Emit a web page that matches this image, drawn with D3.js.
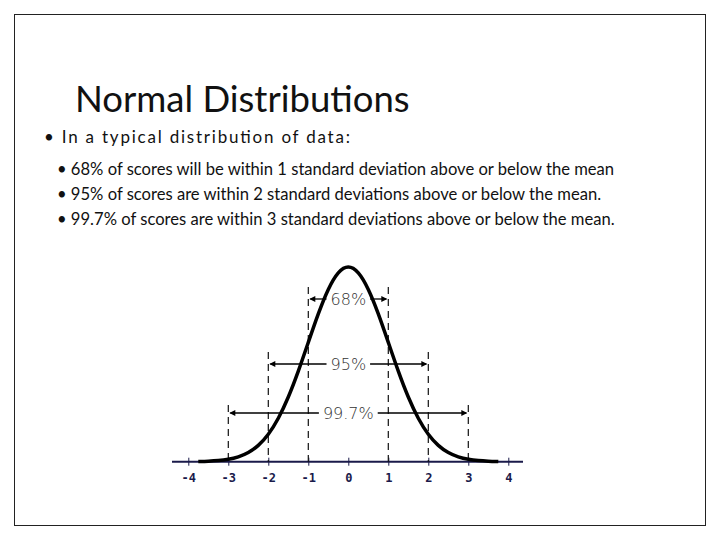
<!DOCTYPE html><html><head><script src="https://cdn.jsdelivr.net/npm/d3@7"></script>
<style>body{margin:0;background:#fff}</style></head><body><svg width="720" height="540"></svg>
<script>
const zs=[-3.75,-3.5,-3.25,-3,-2.75,-2.5,-2.25,-2,-1.75,-1.5,-1.25,-1,-0.75,-0.5,-0.25,0,0.25,0.5,0.75,1,1.25,1.5,1.75,2,2.25,2.5,2.75,3,3.25,3.5,3.75];
const dens=[0.0004,0.0009,0.002,0.0044,0.0091,0.0175,0.0317,0.054,0.0863,0.1295,0.1826,0.242,0.3011,0.3521,0.3867,0.3989,0.3867,0.3521,0.3011,0.242,0.1826,0.1295,0.0863,0.054,0.0317,0.0175,0.0091,0.0044,0.002,0.0009,0.0004];
const ticks=[-4,-3,-2,-1,0,1,2,3,4];
const spans=[{label:"68%",k:1},{label:"95%",k:2},{label:"99.7%",k:3}];
const bullets=["68% of scores will be within 1 standard deviation above or below the mean","95% of scores are within 2 standard deviations above or below the mean.","99.7% of scores are within 3 standard deviations above or below the mean."];
const svg=d3.select("svg");
svg.append("rect").attr("x",14.5).attr("y",14.5).attr("width",691).attr("height",511).attr("fill","none").attr("stroke","#222");
svg.append("text").attr("x",75).attr("y",112).attr("font-family","Lato").attr("font-size",36.5).attr("fill","#111").text("Normal Distributions");
svg.append("text").attr("x",44).attr("y",143).attr("font-family","Lato").attr("font-size",17).attr("fill","#111").attr("textLength",306).text("• In a typical distribution of data:");
bullets.forEach((b,i)=>svg.append("text").attr("x",57).attr("y",175+i*25).attr("font-family","Lato").attr("font-size",16.6).attr("fill","#111").text("• "+b));
const x=d3.scaleLinear().domain([0,1]).range([348.3,388.3]);
const y=d3.scaleLinear().domain([0,0.3989]).range([461.7,265]);
svg.append("line").attr("x1",172).attr("x2",523).attr("y1",461.7).attr("y2",461.7).attr("stroke","#1a1a4a").attr("stroke-width",2);
const ax=svg.append("g").attr("transform","translate(0,461.7)").call(d3.axisBottom(x).tickValues(ticks).tickSize(5).tickFormat(d=>d<0?"-"+Math.abs(d):d));
ax.select(".domain").remove();
ax.selectAll("line").attr("stroke","#1a1a4a").attr("y1",-4).attr("y2",4);
ax.selectAll("text").attr("font-family","DejaVu Sans Mono").attr("font-weight","bold").attr("font-size",12).attr("fill","#1a1a4a").attr("dy","1em");
const tops={1:287,2:352,3:405};
spans.forEach(s=>{[-s.k,s.k].forEach(v=>svg.append("line").attr("x1",x(v)).attr("x2",x(v)).attr("y1",tops[s.k]).attr("y2",461.7).attr("stroke","#111").attr("stroke-dasharray","7,5").attr("stroke-width",1.2));});
svg.append("path").datum(zs).attr("fill","none").attr("stroke","#000").attr("stroke-width",3.5)
 .attr("d",d3.line().x(d=>x(d)).y((d,i)=>y(dens[i])).curve(d3.curveBasis));
const ay={1:299,2:364,3:413};
spans.forEach(s=>{const yy=ay[s.k];const x1=x(-s.k),x2=x(s.k);
 const t=svg.append("text").attr("x",(x1+x2)/2).attr("y",yy+6).attr("text-anchor","middle").attr("font-family","DejaVu Sans").attr("font-weight",300).attr("font-size",16).attr("fill","#333").text(s.label);
 const w=t.node().getComputedTextLength()/2+4;const cx=(x1+x2)/2;
 svg.insert("rect","text").attr("x",cx-w).attr("y",yy-9).attr("width",2*w).attr("height",18).attr("fill","#fff");
 [[x1+2,cx-w],[cx+w,x2-2]].forEach(([a,b])=>svg.append("line").attr("x1",a).attr("x2",b).attr("y1",yy).attr("y2",yy).attr("stroke","#000").attr("stroke-width",1.3));
 svg.append("path").attr("d",`M${x1+1},${yy}l6,-3v6z`).attr("fill","#000");
 svg.append("path").attr("d",`M${x2-1},${yy}l-6,-3v6z`).attr("fill","#000");
 t.raise();
});
</script></body></html>
